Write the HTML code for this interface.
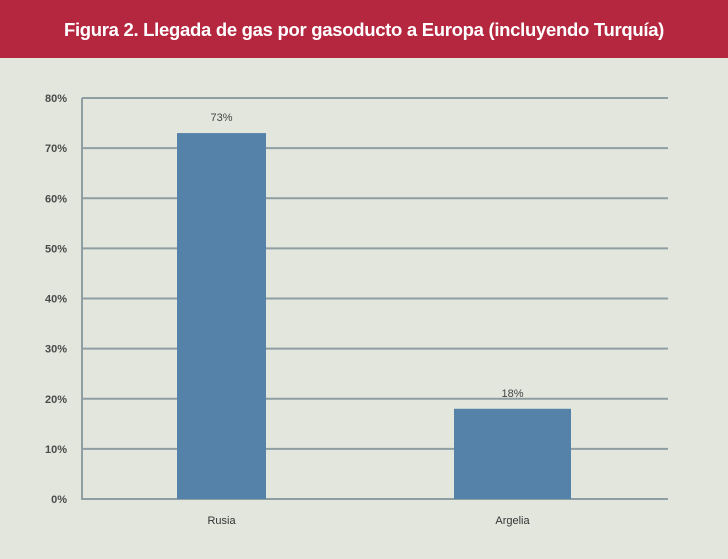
<!DOCTYPE html>
<html><head><meta charset="utf-8"><style>
html,body{margin:0;padding:0;width:728px;height:559px;overflow:hidden;background:#e3e6dd;font-family:"Liberation Sans",sans-serif;}
#hdr{position:absolute;left:0;top:0;width:728px;height:58px;background:#b5263f;color:#fff;font-weight:bold;font-size:18.5px;text-align:center;line-height:60px;letter-spacing:-0.3px;}
svg{position:absolute;left:0;top:0;}
</style></head><body>
<div id="hdr">Figura 2. Llegada de gas por gasoducto a Europa (incluyendo Turquía)</div>
<svg id="c" width="728" height="559"></svg>
<script>
const categories = ["Rusia", "Argelia"];
const values = [73, 18];
const valueLabels = ["73%", "18%"];
const ticks = [0, 10, 20, 30, 40, 50, 60, 70, 80];
const tickLabels = ["0%", "10%", "20%", "30%", "40%", "50%", "60%", "70%", "80%"];

const svg = document.getElementById('c');
const NS = 'http://www.w3.org/2000/svg';
const x0 = 82, x1 = 668, yBase = 499, yTop = 98, vMax = 80;
const y = v => yBase - (v / vMax) * (yBase - yTop);
const bandW = (x1 - x0) / categories.length;
const barW = 89;
const xc = i => x0 + bandW * (i + 0.5) + (i === 0 ? -7 : -9);
function mk(tag, attrs) { const e = document.createElementNS(NS, tag); for (const k in attrs) e.setAttribute(k, attrs[k]); svg.appendChild(e); return e; }

ticks.forEach((t, i) => {
  const g = mk('line', {x1: x0, x2: x1, y1: y(t), y2: y(t), stroke: '#8e9ea2', 'stroke-width': 2});
  
  
  const tl = mk('text', {x: 67, y: y(t) + 4, 'text-anchor': 'end', 'font-size': 11, 'font-weight': 'bold', fill: '#4a4a4a'});
  tl.textContent = tickLabels[i];
  
  
});
const ax = mk('line', {x1: x0, x2: x0, y1: yTop, y2: yBase + 1, stroke: '#8e9ea2', 'stroke-width': 2});



categories.forEach((c, i) => {
  const cx = xc(i);
  const w = i === 0 ? barW : 117;
  const r = mk('rect', {x: cx - w / 2, y: y(values[i]), width: w, height: yBase - y(values[i]), fill: '#5482a8'});
  
  
  const vl = mk('text', {x: cx, y: y(values[i]) - 12, 'text-anchor': 'middle', 'font-size': 11, fill: '#444'});
  vl.textContent = valueLabels[i];
  
  
  const cl = mk('text', {x: cx, y: yBase + 25, 'text-anchor': 'middle', 'font-size': 11, fill: '#333'});
  cl.textContent = c;
  
  
});
</script>
</body></html>
